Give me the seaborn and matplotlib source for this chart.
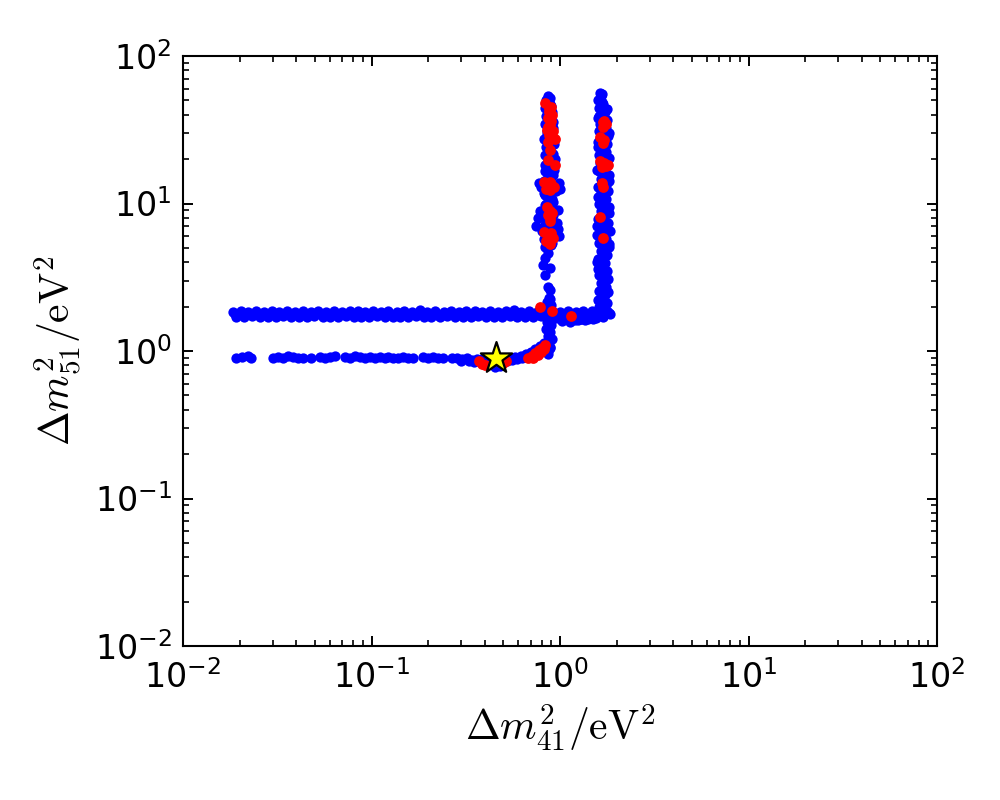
import numpy as np
import pandas as pd
import matplotlib
matplotlib.use("Agg")
import matplotlib.pyplot as plt
import seaborn as sns

# --- scan points (dm41^2, dm51^2 in eV^2) ---
# upper horizontal band, dm51^2 ~ 1.8
upper_dm41 = [0.0184, 0.0202, 0.0222, 0.0245, 0.0268, 0.0296, 0.0325, 0.0358, 0.0393, 0.0433,
              0.0476, 0.0523, 0.0577, 0.0632, 0.0697, 0.0765, 0.0843, 0.0925, 0.102, 0.112,
              0.123, 0.136, 0.149, 0.164, 0.181, 0.198, 0.218, 0.241, 0.264, 0.291,
              0.319, 0.352, 0.386, 0.426, 0.468, 0.514, 0.567, 0.622, 0.686, 0.752,
              0.829, 0.912, 1.00, 1.10, 1.21, 1.33, 1.47, 1.62, 1.78,
              0.0190, 0.0211, 0.0232, 0.0256, 0.0281, 0.0310, 0.0340, 0.0375, 0.0412, 0.0454,
              0.0498, 0.0550, 0.0603, 0.0665, 0.0730, 0.0805, 0.0885, 0.0975, 0.107, 0.118,
              0.130, 0.142, 0.157, 0.172, 0.190, 0.208, 0.230, 0.252, 0.278, 0.305,
              0.336, 0.369, 0.406, 0.447, 0.491, 0.541, 0.594, 0.655, 0.720, 0.790,
              0.870, 0.955, 1.05, 1.16, 1.27, 1.40, 1.55, 1.70, 1.85,
              0.0188, 0.0207, 0.0227, 0.0251, 0.0274, 0.0303, 0.0333, 0.0367, 0.0402, 0.0443,
              0.0487, 0.0536, 0.0591, 0.0647, 0.0714, 0.0783, 0.0863, 0.0947, 0.104, 0.115,
              0.126, 0.139, 0.153, 0.168, 0.185, 0.203, 0.223, 0.247, 0.270, 0.298,
              0.327, 0.360, 0.395, 0.436, 0.479, 0.526, 0.581, 0.637, 0.702, 0.770,
              0.849, 0.934, 1.02, 1.13, 1.24, 1.36, 1.51, 1.66, 1.82,
              1.03, 1.13, 1.24, 1.36, 1.50, 1.09, 1.20, 1.31]
upper_dm51 = [1.85, 1.87, 1.84, 1.86, 1.85, 1.88, 1.84, 1.86, 1.85, 1.87,
              1.83, 1.86, 1.85, 1.88, 1.84, 1.86, 1.87, 1.84, 1.86, 1.85,
              1.88, 1.84, 1.86, 1.85, 1.89, 1.84, 1.86, 1.85, 1.88, 1.84,
              1.86, 1.87, 1.84, 1.88, 1.85, 1.86, 1.89, 1.84, 1.87, 1.85,
              1.90, 1.86, 1.84, 1.87, 1.85, 1.86, 1.88, 1.85, 1.87,
              1.71, 1.70, 1.72, 1.70, 1.71, 1.69, 1.72, 1.70, 1.71, 1.69,
              1.72, 1.70, 1.71, 1.70, 1.72, 1.69, 1.71, 1.70, 1.72, 1.70,
              1.69, 1.71, 1.70, 1.72, 1.70, 1.71, 1.69, 1.72, 1.70, 1.71,
              1.70, 1.72, 1.69, 1.71, 1.70, 1.72, 1.70, 1.71, 1.69, 1.72,
              1.70, 1.68, 1.66, 1.64, 1.65, 1.66, 1.68, 1.71, 1.78,
              1.78, 1.77, 1.79, 1.78, 1.76, 1.78, 1.79, 1.77, 1.78, 1.76,
              1.79, 1.78, 1.77, 1.78, 1.79, 1.77, 1.78, 1.76, 1.79, 1.78,
              1.77, 1.78, 1.79, 1.77, 1.78, 1.79, 1.76, 1.78, 1.77, 1.79,
              1.78, 1.77, 1.79, 1.78, 1.76, 1.78, 1.79, 1.77, 1.78, 1.76,
              1.79, 1.77, 1.75, 1.74, 1.75, 1.76, 1.77, 1.78, 1.80,
              1.60, 1.58, 1.61, 1.62, 1.64, 1.64, 1.63, 1.65]

# lower horizontal band, dm51^2 ~ 0.9, bending up into the left column
lower_dm41 = [0.0191, 0.0206, 0.0221, 0.0229,
              0.0300, 0.0319, 0.0339, 0.0360, 0.0383, 0.0407, 0.0433, 0.0478,
              0.0533, 0.0567, 0.0602, 0.0640,
              0.0724, 0.0769, 0.0818, 0.0869, 0.0924, 0.0982, 0.104, 0.111, 0.118, 0.122,
              0.130, 0.138, 0.147, 0.156, 0.166, 0.188,
              0.200, 0.212, 0.226, 0.240,
              0.267, 0.284, 0.302, 0.321, 0.341, 0.362, 0.300, 0.330, 0.350,
              0.386, 0.410, 0.436, 0.463, 0.492, 0.523, 0.556, 0.591, 0.628, 0.667,
              0.709, 0.754, 0.801, 0.852,
              0.42, 0.46, 0.50, 0.54, 0.58, 0.62, 0.66, 0.70, 0.74, 0.78,
              0.82, 0.87, 0.84, 0.88, 0.86, 0.45, 0.48]
lower_dm51 = [0.90, 0.91, 0.92, 0.90,
              0.90, 0.91, 0.90, 0.92, 0.91, 0.89, 0.90, 0.90,
              0.91, 0.90, 0.91, 0.92,
              0.91, 0.90, 0.92, 0.91, 0.89, 0.91, 0.90, 0.91, 0.90, 0.91,
              0.89, 0.90, 0.91, 0.90, 0.90, 0.91,
              0.90, 0.91, 0.89, 0.90,
              0.89, 0.90, 0.88, 0.89, 0.87, 0.88, 0.86, 0.85, 0.84,
              0.88, 0.86, 0.82, 0.80, 0.82, 0.86, 0.87, 0.88, 0.89, 0.91,
              0.94, 0.98, 1.03, 1.08,
              0.90, 0.91, 0.90, 0.90, 0.91, 0.92, 0.95, 0.99, 1.03, 1.08,
              1.14, 1.18, 1.00, 1.05, 0.96, 0.78, 0.79]

# left vertical column, dm41^2 ~ 0.86
left_dm41 = [0.85, 0.90, 0.84, 0.89, 0.86, 0.91, 0.84, 0.89, 0.86,
             0.86, 0.90, 0.85, 0.89, 0.87,
             0.885, 0.863, 0.833, 0.885, 0.81, 0.833, 0.86,
             0.83, 0.91, 0.82, 0.94, 0.80, 0.89, 0.96, 0.83, 0.92, 0.78,
             0.89, 0.84, 0.91, 0.83, 0.95, 0.79, 0.99, 0.85, 0.92, 0.83,
             0.91, 0.85, 0.94, 0.83, 0.90, 0.84, 0.93, 0.82, 0.90, 0.85,
             0.92, 0.83, 0.90, 0.84, 0.91, 0.83, 0.89, 0.84, 0.86,
             0.90, 0.86, 0.91, 0.85, 0.97, 0.83, 0.90, 0.87, 0.80, 0.93,
             0.83, 0.92, 0.86, 0.82, 0.88, 0.93, 0.82, 0.89, 0.87, 0.93,
             0.83, 0.89, 0.87, 0.92, 0.86, 0.89, 0.87, 0.90, 0.85, 0.88,
             0.87, 0.92, 0.87, 0.88, 0.87, 0.90, 0.86, 0.89,
             0.87, 0.86, 0.87, 0.86, 0.87, 0.87, 0.87, 0.87, 0.87, 0.87,
             0.87, 0.87, 0.86, 0.87, 0.87, 0.87, 0.87, 0.87, 0.87, 0.87,
             0.86, 0.87, 0.86, 0.77, 1.00, 0.76, 0.99, 0.97, 0.75]
left_dm51 = [1.58, 1.50, 1.42, 1.35, 1.27, 1.20, 1.13, 1.06, 1.00,
             1.96, 2.05, 2.15, 2.24, 2.29,
             2.59, 2.71, 3.28, 3.65, 3.83, 4.27, 4.60,
             5.07, 5.40, 5.74, 6.11, 6.50, 6.92, 7.36, 7.83, 8.34, 8.87,
             9.44, 10.0, 10.7, 11.4, 12.1, 12.9, 13.7, 14.6, 15.5, 16.5,
             17.6, 18.7, 19.9, 21.2, 22.5, 24.0, 25.5, 27.2, 28.9, 30.8,
             32.7, 34.8, 37.1, 39.4, 42.0, 44.7, 47.5, 50.6, 53.8,
             5.2, 5.6, 5.9, 6.3, 6.7, 7.1, 7.6, 8.1, 8.6, 9.1,
             9.7, 10.3, 11.0, 11.7, 12.5, 13.3, 14.1, 15.0, 16.0, 17.0,
             18.1, 19.3, 20.5, 21.8, 23.2, 24.7, 26.3, 28.0, 29.8, 31.7,
             33.7, 35.9, 38.2, 40.7, 43.3, 46.1, 49.0, 52.2,
             5.5, 6.5, 7.4, 8.4, 9.3, 10.5, 11.8, 13.0, 14.3, 15.8,
             17.3, 19.0, 20.8, 22.8, 25.0, 27.5, 30.3, 33.2, 36.5, 40.0,
             44.0, 48.2, 52.0, 13.8, 12.5, 8.0, 6.0, 9.0, 7.0]

# right vertical column, dm41^2 ~ 1.7
right_dm41 = [1.61, 1.77, 1.64, 1.74, 1.62, 1.76, 1.65, 1.75, 1.61, 1.78,
              1.64, 1.73, 1.60, 1.77, 1.65, 1.81, 1.61, 1.76, 1.58, 1.84,
              1.64, 1.79, 1.60, 1.74, 1.65, 1.81, 1.61, 1.75, 1.64, 1.80,
              1.60, 1.77, 1.65, 1.82, 1.61, 1.76, 1.64, 1.80, 1.62, 1.75,
              1.60, 1.78, 1.64, 1.79, 1.61, 1.75, 1.63, 1.77, 1.62, 1.74,
              1.61, 1.70, 1.60, 1.66,
              1.70, 1.69, 1.69, 1.70, 1.68, 1.70, 1.69, 1.71, 1.69, 1.72,
              1.70, 1.68, 1.70, 1.68, 1.70, 1.69, 1.71, 1.69, 1.70, 1.68,
              1.69, 1.70, 1.68, 1.69, 1.67, 1.66, 1.63, 1.63,
              1.59, 1.80, 1.58, 1.83, 1.58, 1.83, 1.59, 1.82, 1.58, 1.83,
              1.59, 1.81, 1.59, 1.78, 1.80, 1.60, 1.71, 1.71, 1.70, 1.70,
              1.70, 1.71, 1.70, 1.67, 1.68]
right_dm51 = [2.00, 2.12, 2.26, 2.40, 2.56, 2.72, 2.90, 3.08, 3.28, 3.49,
              3.72, 3.95, 4.21, 4.48, 4.76, 5.07, 5.40, 5.74, 6.11, 6.50,
              6.92, 7.36, 7.83, 8.34, 8.87, 9.44, 10.0, 10.7, 11.4, 12.1,
              12.9, 13.7, 14.6, 15.5, 16.5, 17.6, 18.7, 19.9, 21.2, 22.5,
              24.0, 25.5, 27.2, 28.9, 30.8, 32.7, 34.8, 37.1, 39.4, 42.0,
              44.7, 47.5, 50.6, 53.8,
              2.06, 2.33, 2.64, 3.0, 3.4, 3.8, 4.35, 4.9, 5.6, 6.3,
              7.1, 8.1, 9.1, 10.3, 11.7, 13.3, 15.0, 17.0, 19.3, 21.8,
              24.7, 28.0, 31.7, 35.9, 40.7, 46.1, 52.2, 56.0,
              2.2, 3.1, 4.0, 5.3, 7.0, 8.6, 11.0, 14.2, 16.8, 20.5,
              26.0, 30.0, 38.0, 44.0, 2.5, 3.6, 6.0, 9.8, 12.5, 18.0,
              23.0, 33.0, 43.0, 49.0, 55.0]

# red subset
red_dm41 = [0.833, 0.90, 0.87, 0.91, 0.86, 0.90, 0.88, 0.85, 0.92, 0.87,
            0.94, 0.86, 0.885, 0.86, 0.94, 0.82, 0.86, 0.90, 0.93, 0.84,
            0.88, 0.85, 0.89, 0.86, 0.91, 0.88, 0.82, 0.86, 0.90, 0.84,
            0.88, 0.92, 0.87, 0.89, 0.86, 0.90, 0.88, 0.88, 0.87, 0.86,
            1.72, 1.76, 1.70, 1.63, 1.69, 1.64, 1.72, 1.80, 1.68, 1.67,
            1.70, 1.63, 1.69, 1.70, 1.66, 1.75, 1.71,
            0.78, 0.91, 1.14,
            0.37, 0.385, 0.40, 0.50, 0.52,
            0.68, 0.71, 0.74, 0.77, 0.80, 0.83, 0.72, 0.76, 0.79, 0.82]
red_dm51 = [48.0, 45.1, 41.7, 40.0, 38.0, 36.0, 34.1, 31.5, 31.0, 29.1,
            27.5, 26.1, 23.0, 19.7, 18.2, 14.0, 13.3, 13.6, 13.0, 12.6,
            12.3, 9.46, 8.9, 8.3, 8.6, 7.6, 6.4, 6.0, 6.3, 5.6,
            5.3, 5.8, 44.0, 38.5, 33.0, 28.0, 13.9, 8.0, 6.2, 5.5,
            36.5, 34.5, 33.2, 28.2, 25.7, 19.5, 18.8, 18.2, 17.6, 13.8,
            12.9, 8.1, 5.8, 35.5, 19.0, 18.0, 27.0,
            1.99, 1.87, 1.73,
            0.86, 0.82, 0.80, 0.83, 0.85,
            0.90, 0.93, 0.97, 1.01, 1.05, 1.10, 0.89, 0.94, 0.99, 1.03]

best_dm41 = [0.46]
best_dm51 = [0.90]

blue = pd.DataFrame({
    "dm41": upper_dm41 + lower_dm41 + left_dm41 + right_dm41,
    "dm51": upper_dm51 + lower_dm51 + left_dm51 + right_dm51,
})
red = pd.DataFrame({"dm41": red_dm41, "dm51": red_dm51})
best = pd.DataFrame({"dm41": best_dm41, "dm51": best_dm51})

sns.set_style("ticks")
plt.rcParams.update({
    "font.family": ["DejaVu Sans"],
    "mathtext.fontset": "cm",
    "text.color": "black", "axes.labelcolor": "black",
    "xtick.color": "black", "ytick.color": "black",
    "xtick.direction": "in", "ytick.direction": "in",
    "xtick.top": True, "ytick.right": True,
    "xtick.major.size": 7.5, "ytick.major.size": 7.5,
    "xtick.minor.size": 4, "ytick.minor.size": 4,
    "xtick.major.width": 1.4, "ytick.major.width": 1.4,
    "xtick.minor.width": 1.2, "ytick.minor.width": 1.2,
    "xtick.labelsize": 24, "ytick.labelsize": 24,
    "xtick.major.pad": 10, "ytick.major.pad": 8,
    "axes.linewidth": 1.5, "axes.edgecolor": "black",
})

fig, ax = plt.subplots(figsize=(10, 8), dpi=100)
fig.subplots_adjust(left=0.183, right=0.937, top=0.93, bottom=0.1925)

sns.scatterplot(data=blue, x="dm41", y="dm51", color="blue", s=55, linewidth=0, ax=ax, zorder=2)
sns.scatterplot(data=red, x="dm41", y="dm51", color="red", s=60, linewidth=0, ax=ax, zorder=3)
sns.scatterplot(data=best, x="dm41", y="dm51", color="yellow", marker="*", s=560,
                edgecolor="black", linewidth=1.6, ax=ax, zorder=4)

ax.set_xscale("log")
ax.set_yscale("log")
ax.set_xlim(1e-2, 1e2)
ax.set_ylim(1e-2, 1e2)
ax.tick_params(which="both", top=True, right=True, direction="in")
ax.set_xlabel(r"$\Delta m^2_{41}/\mathrm{eV}^2$", fontsize=30, labelpad=6)
ax.set_ylabel(r"$\Delta m^2_{51}/\mathrm{eV}^2$", fontsize=30, labelpad=8)

fig.savefig("out.png", dpi=100)
